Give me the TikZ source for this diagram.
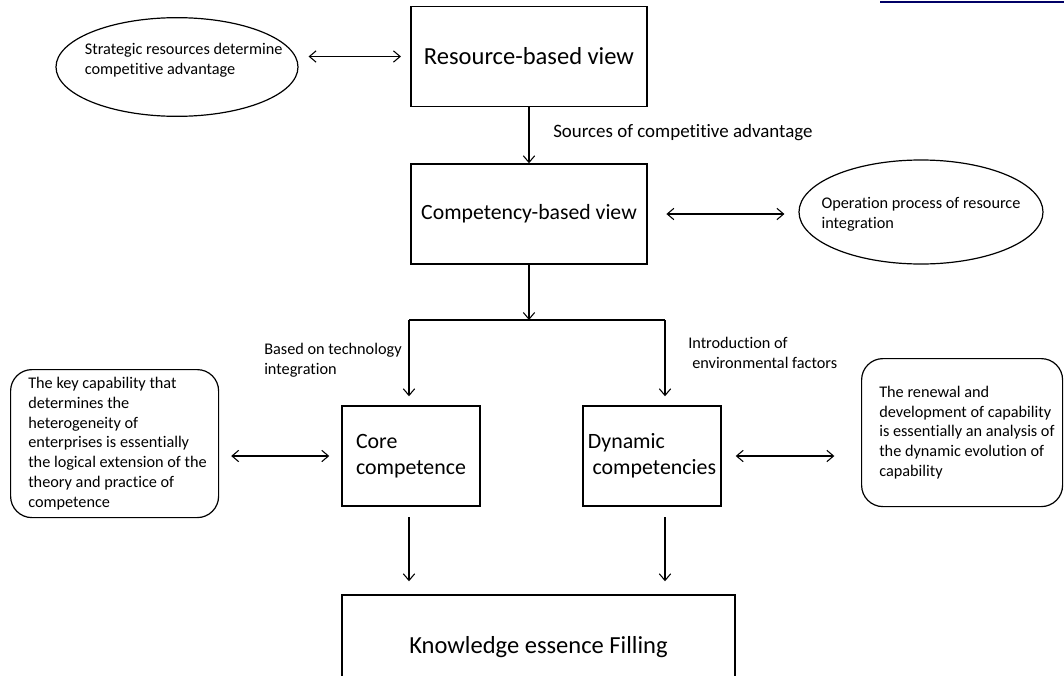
\documentclass[tikz,border=0pt]{standalone}
\usepackage{fontspec}
\setmainfont{Carlito}[Ligatures=NoCommon]
\usetikzlibrary{arrows.meta,shapes.geometric}

\begin{document}
\begin{tikzpicture}[x=0.75pt,y=-0.75pt,
  >={Straight Barb[length=5pt,width=8.5pt]},
  viewbox/.style={draw, line width=1.1pt, minimum width=177pt, minimum height=75pt},
  compbox/.style={draw, line width=1.1pt, minimum width=103.5pt, minimum height=75pt, align=left,
    font=\fontsize{16.4}{19.5}\selectfont},
  oval/.style={draw, ellipse, line width=0.9pt, minimum width=181.5pt, minimum height=74pt},
  note/.style={draw, rounded corners=16pt, line width=0.9pt, anchor=north west, minimum height=111pt},
  notetext/.style={align=left, anchor=west, inner xsep=0pt, label distance=-13.5pt,
    font=\fontsize{12.2}{14.85}\selectfont},
  small/.style={align=left, inner sep=0pt, font=\fontsize{12.2}{15}\selectfont},
  link/.style={->, line width=0.8pt},
  dbl/.style={<->, line width=0.8pt}]
\useasboundingbox (0,0) rectangle (1064,675);

% top row
\node[viewbox, font=\fontsize{18.4}{20}\selectfont, text depth=1pt] (rbv) at (529,56.5) {Resource-based view};
\node[oval, label={[small, xshift=5pt, yshift=5.25pt]center:Strategic resources determine\\competitive advantage}] (strat) at (177,67) {};
\draw[dbl, shorten <=7.5pt, shorten >=7pt] (strat.east |- rbv) -- (rbv.west);

% second row
\node[viewbox, font=\fontsize{16.3}{20}\selectfont] (cbv) at (529,214) {Competency-based view};
\node[oval, minimum width=183pt, minimum height=78pt,
  label={[small, yshift=-2pt]center:Operation process of resource\\integration}] (integ) at (921,212) {};
\draw[link] (rbv) -- (cbv);
\node[small, anchor=west, font=\fontsize{14.2}{15}\selectfont] (src) at (553,133) {Sources of competitive advantage};
\draw[dbl, shorten <=14pt, shorten >=10.5pt] (cbv.east) -- (integ.west |- cbv.east);

% split
\coordinate (split) at (529,320);
\coordinate (ljoint) at (409,320);
\coordinate (rjoint) at (665,320);
\draw[link] (cbv) -- (split);
\draw[line width=0.8pt] (ljoint) -- (rjoint);

% competences
\node[compbox] (core) at (411,456) {Core\\competence};
\node[compbox] (dyn) at (652,456) {Dynamic\\\hspace{3.5pt}competencies};
\draw[link, shorten >=6.75pt] (ljoint) -- (ljoint |- core.north);
\draw[link, shorten >=6.75pt] (rjoint) -- (rjoint |- dyn.north);
\node[small, anchor=west] (tech) at (264,360.5) {Based on technology\\integration};
\node[small, anchor=west] (env) at (688,353) {Introduction of\\\hspace{3pt}environmental factors};

% side notes
\node[note, minimum width=156pt,
  label={[notetext]west:The key capability that\\determines the\\heterogeneity of\\enterprises is essentially\\the logical extension of the\\theory and practice of\\competence}] (keycap) at (10,369) {};
\node[note, minimum width=150.75pt,
  label={[notetext]west:The renewal and\\development of capability\\is essentially an analysis of\\the dynamic evolution of\\capability}] (renew) at (861,358) {};
\draw[dbl, shorten <=9pt, shorten >=9pt] (keycap.east |- core) -- (core.west);
\draw[dbl, shorten <=10.5pt, shorten >=20pt] (dyn.east) -- (renew.west |- dyn.east);

% bottom
\node[draw, line width=1.1pt, minimum width=294.75pt, minimum height=75pt,
  font=\fontsize{18.4}{20}\selectfont, text depth=0pt] (kef) at (538.5,645) {Knowledge essence Filling};
\draw[link, shorten <=8pt, shorten >=9.75pt] (ljoint |- core.south) -- (ljoint |- kef.north);
\draw[link, shorten <=8pt, shorten >=9.75pt] (rjoint |- dyn.south) -- (rjoint |- kef.north);

% stray rule
\draw[blue!40!black, line width=0.8pt] (880,2) -- (1064,2);
\end{tikzpicture}
\end{document}
